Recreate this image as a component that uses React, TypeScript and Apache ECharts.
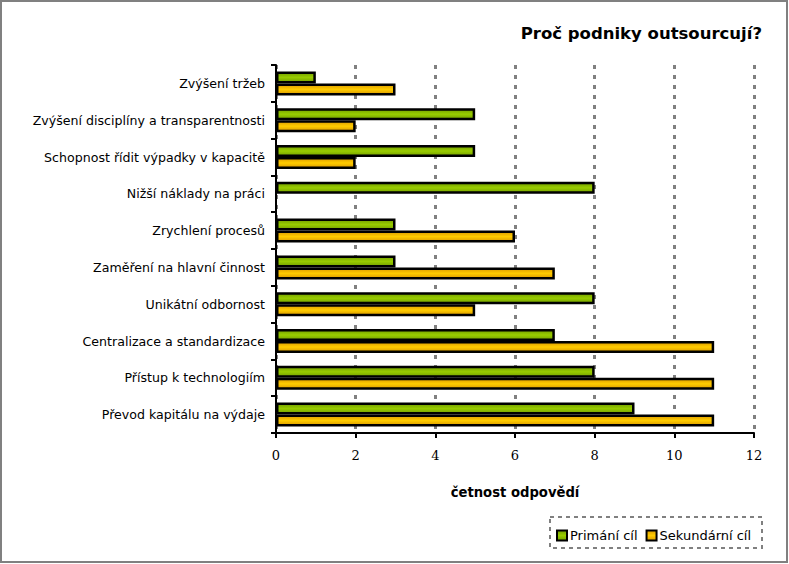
import React, { useEffect, useRef } from "react";
import * as echarts from "echarts";

const categories = [
  "Zvýšení tržeb",
  "Zvýšení disciplíny a transparentnosti",
  "Schopnost řídit výpadky v kapacitě",
  "Nižší náklady na práci",
  "Zrychlení procesů",
  "Zaměření na hlavní činnost",
  "Unikátní odbornost",
  "Centralizace a standardizace",
  "Přístup k technologiím",
  "Převod kapitálu na výdaje",
];
const primary = [1, 5, 5, 8, 3, 3, 8, 7, 8, 9];
const secondary: (number | null)[] = [3, 2, 2, null, 6, 7, 5, 11, 11, 11];
const seriesNames = ["Primání cíl", "Sekundární cíl"];
const xTicks = { min: 0, max: 12, interval: 2 };

const sans = "DejaVu Sans";

function grad(edge: string, mid: string) {
  return new echarts.graphic.LinearGradient(0, 0, 0, 1, [
    { offset: 0, color: edge },
    { offset: 0.5, color: mid },
    { offset: 1, color: edge },
  ]);
}

export default function App() {
  const ref = useRef<HTMLDivElement>(null);
  useEffect(() => {
    document.body.style.margin = "0";
    const chart = echarts.init(ref.current!, null, { renderer: "svg" });
    chart.setOption({
      animation: false,
      backgroundColor: "#ffffff",
      title: {
        text: "Proč podniky outsourcují?",
        right: 22,
        top: 20,
        textStyle: { fontFamily: sans, fontSize: 16.5, fontWeight: "bold", color: "#000" },
      },
      graphic: [
        {
          type: "rect",
          shape: { x: 1, y: 1, width: 786, height: 561 },
          style: { fill: "none", stroke: "#808080", lineWidth: 2 },
          silent: true,
        },
        {
          type: "rect",
          shape: { x: 550, y: 517, width: 212, height: 31 },
          style: { fill: "none", stroke: "#808080", lineWidth: 2, lineDash: [4, 4] },
          silent: true,
        },
      ],
      legend: {
        left: 551,
        top: 524,
        icon: "rect",
        itemWidth: 10,
        itemHeight: 10,
        itemGap: 8,
        textStyle: { fontFamily: sans, fontSize: 13, color: "#000", padding: [0, 0, 0, -2] },
        data: seriesNames,
      },
      grid: { left: 276, right: 35, top: 65, bottom: 131 },
      xAxis: {
        type: "value",
        min: xTicks.min,
        max: xTicks.max,
        interval: xTicks.interval,
        name: "četnost odpovědí",
        nameLocation: "middle",
        nameGap: 53,
        nameTextStyle: { fontFamily: sans, fontSize: 13.2, fontWeight: "bold", color: "#000" },
        axisLine: { show: true, lineStyle: { color: "#000", width: 2 } },
        axisTick: { show: true, length: 5, lineStyle: { color: "#000", width: 2 } },
        axisLabel: { fontFamily: "DejaVu Serif", fontSize: 13, color: "#000", margin: 16 },
        splitLine: { show: true, lineStyle: { color: "#808080", width: 3, type: [4, 6] } },
      },
      yAxis: {
        type: "category",
        data: categories,
        inverse: true,
        axisLine: { show: true, lineStyle: { color: "#000", width: 2 } },
        axisTick: { show: true, length: 5, lineStyle: { color: "#000", width: 2 } },
        axisLabel: { fontFamily: sans, fontSize: 12.6, color: "#000", margin: 11 },
      },
      series: [
        {
          name: seriesNames[0],
          type: "bar",
          data: primary,
          barWidth: 12,
          barGap: "0%",
          itemStyle: { color: grad("#74a000", "#99cc00"), borderColor: "#000", borderWidth: 2.5 },
        },
        {
          name: seriesNames[1],
          type: "bar",
          data: secondary,
          barWidth: 12,
          barGap: "0%",
          itemStyle: { color: grad("#dc9c00", "#ffcc00"), borderColor: "#000", borderWidth: 2.5 },
        },
      ],
    });
    return () => chart.dispose();
  }, []);
  return <div ref={ref} style={{ width: 789, height: 564 }} />;
}
